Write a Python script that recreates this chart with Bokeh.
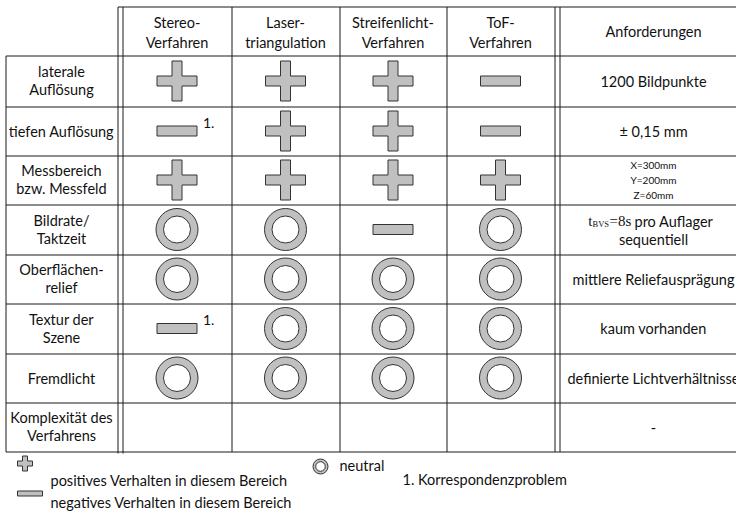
from bokeh.plotting import figure
from bokeh.models import Range1d
from bokeh.core.properties import value
from bokeh.embed import file_html
from bokeh.resources import INLINE

# ---------------- data ----------------
methods = ["Stereo-\nVerfahren", "Laser-\ntriangulation", "Streifenlicht-\nVerfahren", "ToF-\nVerfahren"]
req_header = "Anforderungen"
criteria = ["laterale\nAuflösung", "tiefen Auflösung", "Messbereich\nbzw. Messfeld", "Bildrate/\nTaktzeit",
            "Oberflächen-\nrelief", "Textur der\nSzene", "Fremdlicht", "Komplexität des\nVerfahrens"]
# ratings: "+" positive, "-" negative, "o" neutral, "" none
stereo = ["+", "-", "+", "o", "o", "-", "o", ""]
laser = ["+", "+", "+", "o", "o", "o", "o", ""]
streifen = ["+", "+", "+", "-", "o", "o", "o", ""]
tof = ["-", "-", "+", "o", "o", "o", "o", ""]
stereo_notes = ["", "1.", "", "", "", "1.", "", ""]
requirements = ["1200 Bildpunkte", "± 0,15 mm", "X=300mm\nY=200mm\nZ=60mm", None,
                "mittlere Reliefausprägung", "kaum vorhanden", "definierte Lichtverhältnisse", "-"]
takt_sym, takt_sub, takt_val, takt_rest, takt_line2 = "t", "BVS", "=8s", "pro Auflager", "sequentiell"
legend_pos = "positives Verhalten in diesem Bereich"
legend_neg = "negatives Verhalten in diesem Bereich"
legend_neu = "neutral"
footnote = "1. Korrespondenzproblem"

# ---------------- layout ----------------
FONT = "Lato"
SERIF = "Liberation Serif"
FS = "14.5px"
TXT = "#111111"
FILL = "#c0c0c0"
EDGE = "#333333"
LINE = "#1a1a1a"

col_x = [5, 117, 122, 231, 339, 446, 554, 559, 747]
row_y = [6, 55, 106, 155, 204, 254, 303, 353, 402, 451]
method_left = [122, 231, 339, 446]
method_right = [231, 339, 446, 554]
req_cx = (559 + 747) / 2
label_cx = (5 + 117) / 2

p = figure(width=736, height=511, x_range=Range1d(0, 736), y_range=Range1d(511, 0),
           output_backend="svg", toolbar_location=None, x_axis_location=None,
           y_axis_location=None, min_border=0, outline_line_color=None,
           background_fill_color="white", border_fill_color="white")
p.grid.visible = False

# grid lines
x0, y0, x1, y1 = [], [], [], []
top = row_y[0] + 0.5
bot = row_y[-1] + 0.5
x0.append(117.5); y0.append(top); x1.append(760); y1.append(top)
for yy in row_y[1:]:
    x0.append(5.5); y0.append(yy + 0.5); x1.append(760); y1.append(yy + 0.5)
x0.append(5.5); y0.append(row_y[1] + 0.5); x1.append(5.5); y1.append(bot)
for xx in col_x[1:]:
    x0.append(xx + 0.5); y0.append(top); x1.append(xx + 0.5); y1.append(bot + (1.5 if xx in (117, 122) else 0))
p.segment(x0=x0, y0=y0, x1=x1, y1=y1, line_color=LINE, line_width=1)


def put_lines(text, cx, cy, spacing, offset=0.0, size=FS, font=FONT, align="center"):
    lines = text.split("\n")
    n = len(lines)
    ys = [cy + offset + (i - (n - 1) / 2) * spacing for i in range(n)] if n > 1 else [cy]
    p.text(x=[cx] * n, y=ys, text=lines, text_font=value(font), text_font_size=value(size),
           text_align=align, text_baseline="middle", text_color=TXT)


# header
hc = (row_y[0] + row_y[1]) / 2
for i, m in enumerate(methods):
    cx = (method_left[i] + method_right[i]) / 2
    put_lines(m, cx, hc, 20, 1.5)
put_lines(req_header, req_cx, hc, 20)

# symbols
plus_xs, plus_ys = [], []
minus_x, minus_y = [], []
neu_x, neu_y = [], []
note_x, note_y, note_t = [], [], []
H, T = 20, 5
for j, col in enumerate([stereo, laser, streifen, tof]):
    cx = (method_left[j] + method_right[j]) / 2
    for i, r in enumerate(col):
        cy = (row_y[i + 1] + row_y[i + 2]) / 2
        if r == "+":
            plus_xs.append([cx - T, cx + T, cx + T, cx + H, cx + H, cx + T, cx + T, cx - T, cx - T, cx - H, cx - H, cx - T])
            plus_ys.append([cy - H, cy - H, cy - T, cy - T, cy + T, cy + T, cy + H, cy + H, cy + T, cy + T, cy - T, cy - T])
        elif r == "-":
            minus_x.append(cx); minus_y.append(cy)
        elif r == "o":
            neu_x.append(cx); neu_y.append(cy)
        if j == 0 and stereo_notes[i]:
            note_x.append(cx + 26); note_y.append(cy - 8.5); note_t.append(stereo_notes[i])

p.patches(xs=plus_xs, ys=plus_ys, fill_color=FILL, line_color=EDGE, line_width=1)
p.rect(x=minus_x, y=minus_y, width=40, height=10, fill_color=FILL, line_color=EDGE, line_width=1)
p.annulus(x=neu_x, y=neu_y, inner_radius=13.5, outer_radius=21, fill_color=FILL, line_color=EDGE, line_width=1)
p.text(x=note_x, y=note_y, text=note_t, text_font=value(FONT), text_font_size=value("14px"),
       text_align="left", text_baseline="middle", text_color=TXT)

# row labels and requirements
for i, c in enumerate(criteria):
    cy = (row_y[i + 1] + row_y[i + 2]) / 2
    put_lines(c, label_cx, cy, 18, -0.5)
    rq = requirements[i]
    if rq is None:
        continue
    if "\n" in rq:
        put_lines(rq, req_cx, cy, 15, 0, size="10px")
    else:
        put_lines(rq, req_cx, cy, 18)

# Taktzeit requirement (row 4)
cy4 = (row_y[4] + row_y[5]) / 2
ly1 = cy4 - 8.5
p.text(x=[592], y=[ly1], text=[takt_sym], text_font=value(SERIF), text_font_size=value("15px"),
       text_align="right", text_baseline="middle", text_color=TXT)
p.text(x=[592], y=[ly1 + 3], text=[takt_sub], text_font=value(SERIF), text_font_size=value("8.5px"),
       text_align="left", text_baseline="middle", text_color=TXT)
p.text(x=[609], y=[ly1], text=[takt_val], text_font=value(SERIF), text_font_size=value("15px"),
       text_align="left", text_baseline="middle", text_color=TXT)
p.text(x=[634], y=[ly1], text=[takt_rest], text_font=value(FONT), text_font_size=value(FS),
       text_align="left", text_baseline="middle", text_color=TXT)
p.text(x=[req_cx], y=[cy4 + 9.5], text=[takt_line2], text_font=value(FONT), text_font_size=value(FS),
       text_align="center", text_baseline="middle", text_color=TXT)

# legend
lx, ly, lh, lt = 24.5, 463, 7.5, 2.5
p.patches(xs=[[lx - lt, lx + lt, lx + lt, lx + lh, lx + lh, lx + lt, lx + lt, lx - lt, lx - lt, lx - lh, lx - lh, lx - lt]],
          ys=[[ly - lh, ly - lh, ly - lt, ly - lt, ly + lt, ly + lt, ly + lh, ly + lh, ly + lt, ly + lt, ly - lt, ly - lt]],
          fill_color=FILL, line_color=EDGE, line_width=1)
p.rect(x=[29.5], y=[493], width=25, height=5, fill_color=FILL, line_color=EDGE, line_width=1)
p.annulus(x=[320], y=[466], inner_radius=4.8, outer_radius=7.5, fill_color=FILL, line_color=EDGE, line_width=1)
p.text(x=[50, 50, 339, 402], y=[480, 502, 465, 479], text=[legend_pos, legend_neg, legend_neu, footnote],
       text_font=value(FONT), text_font_size=value(FS), text_align="left", text_baseline="middle", text_color=TXT)

open("out.html", "w").write(file_html(p, INLINE))
